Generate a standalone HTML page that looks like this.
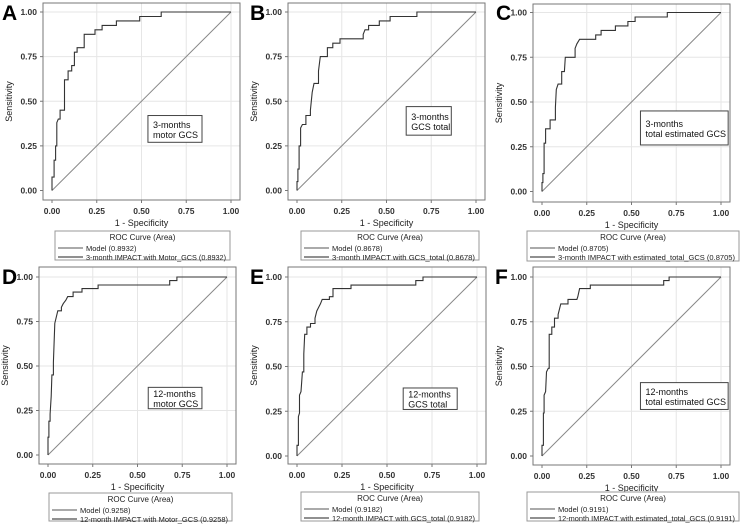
<!DOCTYPE html>
<html><head><meta charset="utf-8"><style>
html,body{margin:0;padding:0;background:#fff;}
svg{display:block;font-family:"Liberation Sans",Arial,sans-serif;}
</style></head><body>
<svg id="fig" width="741" height="529" viewBox="0 0 741 529"></svg>
<script>
const xTickVals=[0,0.25,0.5,0.75,1];
const xTickLabels=["0.00","0.25","0.50","0.75","1.00"];
const yTickVals=[0,0.25,0.5,0.75,1];
const yTickLabels=["0.00","0.25","0.50","0.75","1.00"];
const panelLetters=["A","B","C","D","E","F"];
const insetLines=[["3-months","motor GCS"],["3-months","GCS total"],["3-months","total estimated GCS"],["12-months","motor GCS"],["12-months","GCS total"],["12-months","total estimated GCS"]];
const modelAUC=["0.8932","0.8678","0.8705","0.9258","0.9182","0.9191"];
const seriesNames=["3-month IMPACT with Motor_GCS","3-month IMPACT with GCS_total","3-month IMPACT with estimated_total_GCS","12-month IMPACT with Motor_GCS","12-month IMPACT with GCS_total","12-month IMPACT with estimated_total_GCS"];
const fprA=[0,0,0.012,0.012,0.02,0.02,0.027,0.027,0.035,0.045,0.045,0.07,0.07,0.09,0.09,0.11,0.11,0.125,0.125,0.14,0.14,0.18,0.18,0.24,0.24,0.28,0.28,0.36,0.36,0.49,0.49,0.61,0.61,1];
const tprA=[0,0.075,0.075,0.17,0.17,0.25,0.25,0.38,0.40,0.40,0.45,0.45,0.62,0.62,0.67,0.67,0.70,0.70,0.775,0.775,0.80,0.80,0.875,0.875,0.90,0.90,0.925,0.925,0.95,0.95,0.975,0.975,1,1];
const fprB=[0,0,0.005,0.005,0.012,0.012,0.02,0.02,0.03,0.05,0.05,0.075,0.075,0.085,0.095,0.12,0.12,0.13,0.17,0.17,0.20,0.20,0.24,0.24,0.37,0.37,0.38,0.40,0.40,0.46,0.46,0.52,0.52,0.67,0.67,1];
const tprB=[0,0.05,0.05,0.12,0.12,0.25,0.25,0.35,0.37,0.37,0.42,0.42,0.45,0.55,0.60,0.60,0.67,0.75,0.75,0.80,0.80,0.825,0.825,0.85,0.85,0.875,0.90,0.90,0.925,0.925,0.95,0.95,0.975,0.975,1,1];
const fprC=[0,0,0.005,0.005,0.012,0.012,0.02,0.02,0.045,0.045,0.075,0.075,0.08,0.09,0.11,0.11,0.125,0.13,0.185,0.185,0.195,0.21,0.30,0.30,0.33,0.33,0.41,0.41,0.48,0.48,0.52,0.52,0.70,0.70,1];
const tprC=[0,0.05,0.05,0.10,0.10,0.27,0.27,0.35,0.35,0.40,0.40,0.47,0.57,0.60,0.60,0.67,0.67,0.75,0.75,0.80,0.825,0.85,0.85,0.875,0.875,0.90,0.90,0.925,0.925,0.95,0.95,0.975,0.975,1,1];
const fprD=[0,0,0.005,0.005,0.012,0.012,0.018,0.022,0.03,0.03,0.038,0.045,0.055,0.075,0.075,0.085,0.10,0.11,0.14,0.14,0.19,0.19,0.28,0.28,0.68,0.68,0.72,0.72,1];
const tprD=[0,0.10,0.10,0.19,0.19,0.23,0.33,0.45,0.45,0.52,0.74,0.77,0.81,0.81,0.83,0.85,0.87,0.89,0.89,0.915,0.915,0.935,0.935,0.955,0.955,0.98,0.98,1,1];
const fprE=[0,0,0.008,0.008,0.014,0.014,0.022,0.03,0.038,0.038,0.043,0.055,0.055,0.075,0.075,0.10,0.10,0.11,0.12,0.13,0.14,0.18,0.18,0.20,0.20,0.30,0.30,0.66,0.66,0.70,0.70,1];
const tprE=[0,0.06,0.06,0.22,0.24,0.34,0.36,0.47,0.47,0.57,0.68,0.68,0.72,0.72,0.74,0.74,0.77,0.81,0.83,0.85,0.875,0.875,0.89,0.89,0.935,0.935,0.955,0.955,0.98,0.98,1,1];
const fprF=[0,0,0.008,0.008,0.012,0.012,0.02,0.025,0.035,0.04,0.04,0.055,0.055,0.07,0.07,0.09,0.09,0.10,0.105,0.145,0.145,0.195,0.20,0.21,0.27,0.27,0.68,0.68,0.71,0.71,1];
const tprF=[0,0.06,0.06,0.24,0.24,0.34,0.36,0.47,0.49,0.49,0.68,0.68,0.72,0.72,0.77,0.77,0.79,0.83,0.85,0.85,0.875,0.875,0.89,0.935,0.935,0.955,0.955,0.98,0.98,1,1];
const fprs=[fprA,fprB,fprC,fprD,fprE,fprF];
const tprs=[tprA,tprB,tprC,tprD,tprE,tprF];
const insetBox=[[0.536,0.42,0.838,0.27],[0.61,0.47,0.862,0.31],[0.55,0.45,1.04,0.26],[0.56,0.38,0.86,0.26],[0.59,0.38,0.89,0.26],[0.55,0.41,1.04,0.26]];

const geo=[
 {f:[43,3,240,200],x0:52,x1:231,y0:190.5,y1:12,lg:[55,231,230,260],l:[2,20]},
 {f:[288,3,485,200],x0:297,x1:476,y0:190.5,y1:12,lg:[301,231,479,260],l:[250,20]},
 {f:[533,4,730,202],x0:542,x1:721,y0:191.5,y1:12.5,lg:[527,231,739,261],l:[496,20]},
 {f:[39,267,236,464],x0:48,x1:227,y0:455,y1:277,lg:[49,493,232,521],l:[2,284]},
 {f:[288,267,486,464],x0:297,x1:477,y0:456,y1:277,lg:[301,492,479,521],l:[250,284]},
 {f:[533,267,730,465],x0:542,x1:721,y0:456,y1:277,lg:[527,492,739,521],l:[495,284]}
];
const svg=document.getElementById('fig');
const NS='http://www.w3.org/2000/svg';
function mk(tag,attrs,parent,text){const e=document.createElementNS(NS,tag);for(const k in attrs)e.setAttribute(k,attrs[k]);if(text!==undefined)e.textContent=text;parent.appendChild(e);return e;}
geo.forEach((g,i)=>{
 const sx=v=>g.x0+v*(g.x1-g.x0);
 const sy=v=>g.y0-v*(g.y0-g.y1);
 const grp=mk('g',{},svg);
 
 
 const [fx0,fy0,fx1,fy1]=g.f;
 yTickVals.forEach(v=>{if(v>0){const gl=mk('line',{x1:fx0,x2:fx1,y1:sy(v),y2:sy(v),stroke:'#e6e6e6','stroke-width':1},grp);}});
 xTickVals.forEach(v=>{if(v>0){const gl=mk('line',{x1:sx(v),x2:sx(v),y1:fy0,y2:fy1,stroke:'#e6e6e6','stroke-width':1},grp);}});
 const dg=mk('line',{x1:sx(0),y1:sy(0),x2:sx(1),y2:sy(1),stroke:'#888','stroke-width':1},grp);
 
 const fr=mk('rect',{x:fx0,y:fy0,width:fx1-fx0,height:fy1-fy0,fill:'none',stroke:'#777','stroke-width':1},grp);
 
 const pts=fprs[i].map((f,k)=>sx(f).toFixed(1)+','+sy(tprs[i][k]).toFixed(1)).join(' ');
 const cv=mk('polyline',{points:pts,fill:'none',stroke:'#333','stroke-width':1.1},grp);
 
 xTickVals.forEach((v,k)=>{
  mk('line',{x1:sx(v),x2:sx(v),y1:fy1,y2:fy1+3,stroke:'#777'},grp);
  const t=mk('text',{x:sx(v),y:fy1+14,'text-anchor':'middle','font-size':8.5,'font-weight':'bold',fill:'#333'},grp,xTickLabels[k]);
  
 });
 yTickVals.forEach((v,k)=>{
  mk('line',{x1:fx0-3,x2:fx0,y1:sy(v),y2:sy(v),stroke:'#777'},grp);
  const t=mk('text',{x:fx0-6,y:sy(v)+3,'text-anchor':'end','font-size':8.5,'font-weight':'bold',fill:'#333'},grp,yTickLabels[k]);
  
 });
 const xt=mk('text',{x:(fx0+fx1)/2,y:fy1+26,'text-anchor':'middle','font-size':9,fill:'#222'},grp,'1 - Specificity');
 
 const yc=(fy0+fy1)/2;
 const yt=mk('text',{x:fx0-31,y:yc,'text-anchor':'middle','font-size':9,fill:'#222',transform:`rotate(-90 ${fx0-31} ${yc})`},grp,'Sensitivity');
 
 const pl=mk('text',{x:g.l[0],y:g.l[1],'font-size':21,'font-weight':'bold',fill:'#000'},grp,panelLetters[i]);
 
 const b=insetBox[i];
 const bx=sx(b[0]),by=sy(b[1]),bw=sx(b[2])-sx(b[0]),bh=sy(b[3])-sy(b[1]);
 const ib=mk('rect',{x:bx,y:by,width:bw,height:bh,fill:'#fff',stroke:'#444','stroke-width':1},grp);
 
 insetLines[i].forEach((s,k)=>{
  const t=mk('text',{x:bx+5,y:by+bh/2-1+k*10,'font-size':9,fill:'#111'},grp,s);
  
 });
 const [lx0,ly0,lx1,ly1]=g.lg;
 const lg=mk('g',{},grp);
 
 mk('rect',{x:lx0,y:ly0,width:lx1-lx0,height:ly1-ly0,fill:'#fff',stroke:'#999','stroke-width':1},lg);
 const lt=mk('text',{x:(lx0+lx1)/2,y:ly0+9,'text-anchor':'middle','font-size':8,fill:'#222'},lg,'ROC Curve (Area)');
 
 [['Model  ('+modelAUC[i]+')','#555',false],[seriesNames[i]+'  ('+modelAUC[i]+')','#222',true]].forEach((r,k)=>{
  const ry=ly0+17+k*9;
  const e=mk('g',{},lg);
  
  mk('line',{x1:lx0+3,x2:lx0+28,y1:ry,y2:ry,stroke:r[1],'stroke-width':1},e);
  const at={x:lx0+31,y:ry+3,'font-size':7.5,fill:'#222'};
  if(r[2]){at.textLength=(lx1-4)-(lx0+31);at.lengthAdjust='spacingAndGlyphs';}
  mk('text',at,e,r[0]);
 });
});
</script>
</body></html>
